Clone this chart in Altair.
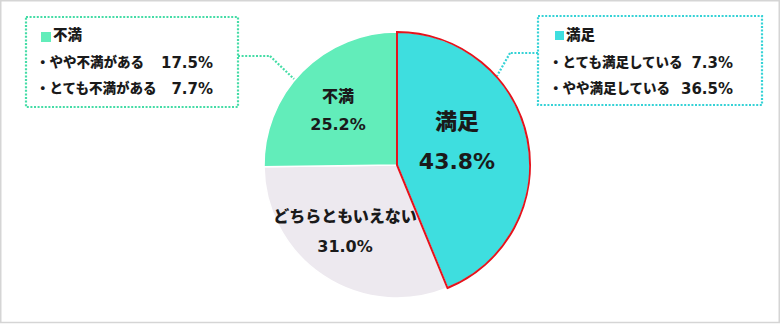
import altair as alt
import pandas as pd

# ---- data ----
categories = ["満足", "どちらともいえない", "不満"]
values = [43.8, 31.0, 25.2]
slice_colors = ["#3EDEDF", "#EDE9EF", "#62EDBA"]

sat_items = ["とても満足している", "やや満足している"]
sat_values = [7.3, 36.5]
dis_items = ["やや不満がある", "とても不満がある"]
dis_values = [17.5, 7.7]

# ---- layout / style ----
W, H = 780, 324
CX, CY, R = 397, 165, 133
FONT = "DejaVu Sans, Noto Sans CJK JP, sans-serif"
WEIGHT = 900
TXT = "#1A1A1A"
RED = "#E5131C"
MINT_LINE = "#45DCA6"
CYAN_LINE = "#35D2D6"

pie_df = pd.DataFrame({"category": categories, "value": values, "order": range(len(categories))})

base = alt.Chart(pie_df).transform_window(
    cum="sum(value)", sort=[alt.SortField("order")]
).transform_calculate(start="datum.cum - datum.value")

theta = alt.Theta("start:Q", scale=alt.Scale(domain=[0, 100]))
arcs = base.mark_arc(radius=R, stroke="white", strokeWidth=1.5).encode(
    theta=theta, theta2="cum:Q",
    color=alt.Color("category:N", scale=alt.Scale(domain=categories, range=slice_colors), legend=None),
    x=alt.value(CX), y=alt.value(CY),
)
red_outline = base.transform_filter(alt.datum.category == "満足").mark_arc(
    radius=R, fill="white", fillOpacity=0, stroke=RED, strokeWidth=2
).encode(theta=theta, theta2="cum:Q", x=alt.value(CX), y=alt.value(CY))

# pie labels (name line, percent line) positions
label_layout = {
    "満足": (457, 122, 162, 22),
    "どちらともいえない": (345, 217, 247, 16),
    "不満": (338, 97, 125, 16),
}
rows = []
for c, v in zip(categories, values):
    x, y1, y2, fs = label_layout[c]
    rows.append({"text": c, "x": x, "y": y1, "fs": fs})
    rows.append({"text": f"{v:.1f}%", "x": x, "y": y2, "fs": fs})
pie_text = alt.Chart(pd.DataFrame(rows)).mark_text(
    font=FONT, fontWeight=WEIGHT, color=TXT, align="center", baseline="middle"
).encode(
    x=alt.X("x:Q", scale=None), y=alt.Y("y:Q", scale=None),
    text="text:N", size=alt.Size("fs:Q", scale=None),
)

one = alt.Data(values=[{}])

def rect(x1, y1, x2, y2, **kw):
    return alt.Chart(one).mark_rect(**kw).encode(
        x=alt.value(x1), x2=alt.value(x2), y=alt.value(y1), y2=alt.value(y2))

def rule(x1, y1, x2, y2, color):
    return alt.Chart(one).mark_rule(color=color, strokeWidth=2.2, strokeDash=[2, 1.6]).encode(
        x=alt.value(x1), x2=alt.value(x2), y=alt.value(y1), y2=alt.value(y2))

frame = rect(0.75, 0.75, 779.25, 322.5, fill="white", stroke="#D5D5D5", strokeWidth=1.5)

left_box = rect(26, 17, 238, 107, fill="white", fillOpacity=0, stroke=MINT_LINE, strokeWidth=2.2, strokeDash=[2, 1.6])
right_box = rect(538, 16, 762, 105, fill="white", fillOpacity=0, stroke=CYAN_LINE, strokeWidth=2.2, strokeDash=[2, 1.6])

conn = [
    rule(238, 56, 270, 56, MINT_LINE), rule(270, 56, 294, 79, MINT_LINE),
    rule(538, 53, 510, 53, CYAN_LINE), rule(510, 53, 497, 76, CYAN_LINE),
]

squares = [
    rect(41, 32, 51, 42, fill=slice_colors[2]),
    rect(555, 31, 564, 40, fill=slice_colors[0]),
]

head_rows, item_rows, pct_rows = [], [], []
head_rows.append({"text": categories[2], "x": 53, "y": 36})
head_rows.append({"text": categories[0], "x": 566, "y": 36})
for i, (n, v) in enumerate(zip(dis_items, dis_values)):
    y = 63 + 26 * i
    item_rows.append({"text": "・" + n, "x": 36, "y": y})
    pct_rows.append({"text": f"{v:.1f}%", "x": 213, "y": y})
for i, (n, v) in enumerate(zip(sat_items, sat_values)):
    y = 63 + 26 * i
    item_rows.append({"text": "・" + n, "x": 549, "y": y})
    pct_rows.append({"text": f"{v:.1f}%", "x": 733, "y": y})

def texts(rows, align, size):
    return alt.Chart(pd.DataFrame(rows)).mark_text(
        font=FONT, fontWeight=WEIGHT, color=TXT, align=align, baseline="middle", fontSize=size
    ).encode(x=alt.X("x:Q", scale=None), y=alt.Y("y:Q", scale=None), text="text:N")

head_text = texts(head_rows, "left", 14.5)
item_text = texts(item_rows, "left", 13.5)
pct_text = texts(pct_rows, "right", 15)

chart = alt.layer(
    frame, *conn, arcs, red_outline, pie_text, left_box, right_box, *squares,
    head_text, item_text, pct_text
).properties(
    width=W, height=H, autosize="none", padding=0, background="white"
).configure_view(stroke=None)

chart.save("out.html", embed_options={"renderer": "svg", "actions": False})
